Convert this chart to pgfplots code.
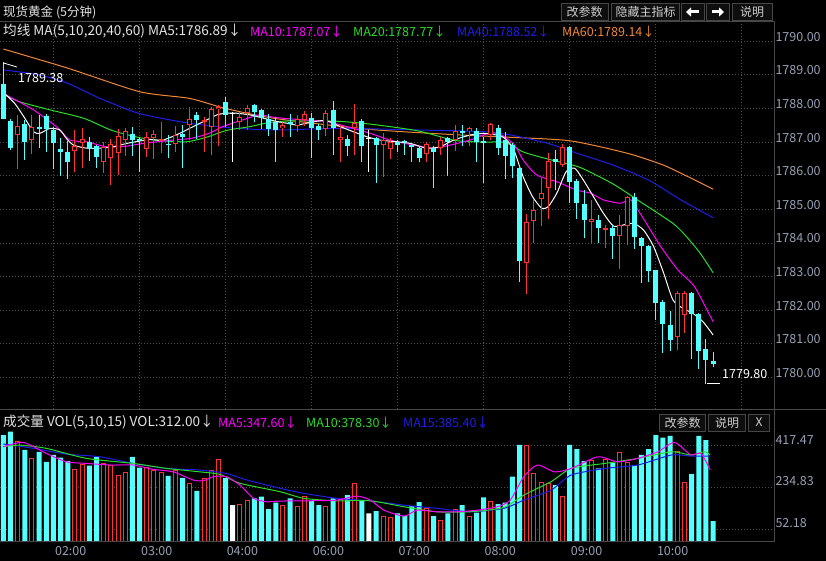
\documentclass[border=0pt]{standalone}
\usepackage{pgfplots}
\pgfplotsset{compat=1.18}
\usepackage{pgfplotstable}
\usepackage{fontspec}
\setmainfont{Noto Sans CJK SC}
\usetikzlibrary{arrows.meta}

\definecolor{cy}{RGB}{84,255,255}
\definecolor{rd}{RGB}{255,50,50}
\definecolor{ma10c}{RGB}{255,0,255}
\definecolor{ma20c}{RGB}{40,220,40}
\definecolor{ma40c}{RGB}{30,30,235}
\definecolor{ma60c}{RGB}{240,135,55}
\definecolor{gridc}{RGB}{78,78,78}
\definecolor{axc}{RGB}{150,160,180}
\definecolor{framec}{RGB}{72,72,72}
\definecolor{hdr}{RGB}{228,228,228}
\definecolor{btnb}{RGB}{70,70,70}
\definecolor{btnf}{RGB}{14,14,14}
\definecolor{btnt}{RGB}{205,205,205}

% up (red hollow) candles
\pgfplotstableread{
i o h l c v
2 1787.21 1787.81 1786.22 1787.48 438
4 1787.06 1787.81 1786.67 1787.46 362
10 1786.74 1787.38 1786.12 1786.89 315
11 1786.97 1787.42 1786.23 1787.10 337
14 1786.42 1787.00 1786.10 1786.86 340
15 1786.52 1787.10 1785.72 1786.94 330
16 1786.70 1787.38 1786.02 1787.21 289
17 1787.06 1787.42 1786.60 1787.34 302
20 1786.79 1787.31 1786.55 1787.16 321
21 1787.14 1787.36 1786.52 1787.26 308
22 1787.05 1787.61 1786.69 1787.09 302
24 1786.94 1787.48 1786.71 1787.23 311
26 1787.51 1788.05 1787.06 1787.71 250
28 1787.62 1787.76 1786.71 1787.64 275
29 1787.46 1788.05 1786.62 1788.00 311
30 1788.00 1788.10 1786.90 1788.07 358
33 1787.61 1787.90 1787.36 1787.76 162
34 1787.86 1788.10 1787.36 1788.01 176
39 1787.44 1787.61 1787.18 1787.51 157
41 1787.48 1787.81 1787.31 1787.69 153
42 1787.66 1787.93 1787.48 1787.86 194
45 1787.38 1787.96 1787.18 1787.88 150
47 1787.08 1787.51 1786.42 1787.16 182
49 1787.41 1788.15 1786.62 1787.56 250
53 1786.93 1787.28 1785.99 1787.06 109
54 1786.82 1787.14 1786.52 1787.03 102
59 1786.67 1787.01 1786.42 1786.96 143
61 1786.82 1787.16 1786.62 1787.06 89
63 1787.06 1787.51 1786.76 1787.34 139
65 1787.34 1787.43 1786.88 1787.41 106
68 1787.21 1787.58 1787.06 1787.54 175
73 1783.41 1784.88 1782.50 1784.63 418
74 1784.66 1785.30 1784.01 1785.00 296
75 1785.30 1785.95 1784.50 1785.49 255
76 1785.65 1786.68 1784.73 1786.45 253
78 1786.32 1786.96 1786.27 1786.86 194
82 1784.63 1785.28 1784.01 1784.73 352
84 1784.40 1784.53 1783.84 1784.45 355
86 1784.21 1784.83 1783.24 1784.53 389
87 1784.50 1785.40 1783.94 1785.38 343
94 1781.19 1782.58 1780.83 1782.52 391
95 1781.85 1782.58 1781.31 1782.52 257
}\up

% down (cyan) candles
\pgfplotstableread{
i o h l c v
0 1788.75 1789.38 1787.68 1787.71 464
1 1787.63 1787.70 1786.77 1786.84 479
3 1787.54 1787.66 1786.47 1787.01 399
5 1787.45 1787.81 1786.82 1787.39 391
6 1787.78 1787.85 1786.71 1787.41 347
7 1787.38 1787.46 1786.22 1786.98 377
8 1786.80 1787.12 1786.00 1786.72 365
9 1786.71 1787.06 1785.93 1786.42 350
12 1787.01 1787.16 1786.45 1786.81 330
13 1786.88 1786.91 1786.22 1786.55 369
18 1787.24 1787.45 1786.60 1787.06 369
19 1787.10 1787.16 1786.12 1787.04 321
23 1786.96 1787.21 1786.52 1786.92 285
25 1787.24 1787.51 1786.22 1787.16 277
27 1787.83 1787.90 1787.11 1787.66 220
31 1788.20 1788.35 1787.46 1787.81 275
35 1788.10 1788.15 1787.60 1787.90 187
36 1787.96 1788.00 1787.40 1787.71 194
37 1787.71 1787.86 1787.21 1787.39 140
38 1787.61 1787.76 1786.42 1787.36 168
40 1787.61 1787.84 1787.16 1787.56 187
43 1787.74 1787.86 1786.52 1787.44 176
44 1787.48 1787.56 1787.08 1787.36 157
46 1787.96 1788.22 1786.62 1787.44 187
48 1787.11 1787.21 1786.59 1786.88 201
50 1787.63 1787.68 1786.42 1786.88 176
52 1787.13 1787.16 1785.79 1786.93 131
55 1787.01 1787.06 1786.71 1786.91 121
56 1787.04 1787.06 1786.62 1787.00 109
57 1786.93 1786.96 1786.42 1786.86 153
58 1786.82 1786.88 1786.42 1786.52 170
60 1786.82 1786.88 1785.63 1786.71 109
62 1787.13 1787.16 1785.99 1787.01 121
64 1787.34 1787.51 1786.88 1787.26 157
66 1787.34 1787.41 1786.42 1787.03 124
67 1787.03 1787.16 1785.79 1786.98 191
69 1787.41 1787.51 1786.62 1786.82 162
70 1787.06 1787.31 1785.92 1786.59 168
71 1786.91 1786.96 1785.92 1786.29 282
72 1786.22 1786.29 1782.85 1783.46 421
77 1786.49 1786.76 1785.57 1786.42 245
79 1786.86 1786.88 1785.18 1785.82 421
80 1785.87 1785.92 1784.73 1785.20 403
81 1785.18 1785.57 1784.14 1784.70 350
83 1784.68 1784.83 1784.01 1784.45 318
85 1784.45 1784.53 1783.54 1784.21 343
88 1785.38 1785.49 1783.84 1784.17 333
89 1784.17 1784.18 1782.82 1783.91 377
90 1783.91 1783.94 1782.85 1783.17 403
91 1783.19 1783.21 1781.73 1782.22 464
92 1782.25 1782.30 1780.73 1781.61 453
93 1781.56 1781.98 1780.79 1781.13 461
96 1782.52 1782.55 1780.54 1781.88 293
97 1781.88 1781.90 1780.24 1780.79 461
98 1780.86 1781.16 1779.80 1780.54 442
99 1780.49 1780.76 1780.32 1780.42 87
}\down

% flat (white) candles
\pgfplotstableread{
i o h l c v
32 1787.86 1787.90 1786.42 1787.86 157
51 1787.13 1787.36 1786.12 1787.13 121
}\flat

\newcommand{\hf}{\fontsize{12.5}{14}\selectfont}
\newcommand{\hfw}{\fontsize{13.6}{15}\selectfont}
\newcommand{\tf}{\fontsize{12}{14}\selectfont}
\newcommand{\af}{\fontsize{12.5}{14}\selectfont}

\begin{document}
\begin{tikzpicture}
\useasboundingbox (0pt,0pt) rectangle (826pt,-561pt);
\fill[black] (0pt,0pt) rectangle (826pt,-561pt);

% ---------------- main price panel ----------------
\begin{axis}[
  at={(0pt,-21.5pt)}, anchor=north west,
  scale only axis, width=773pt, height=387.5pt,
  xmin=-0.46, xmax=107.35,
  ymin=1779.057, ymax=1790.589,
  axis line style={draw=none},
  major tick length=0pt,
  ytick={1780,1781,1782,1783,1784,1785,1786,1787,1788,1789,1790},
  yticklabel pos=right,
  /pgf/number format/assume math mode=true,
  yticklabel style={/pgf/number format/.cd, fixed, fixed zerofill, precision=2, 1000 sep={},
     /tikz/.cd, anchor=west, xshift=-1pt, yshift=4.5pt, font=\af, text=axc},
  xtick={6.97,18.96,30.96,42.95,54.95,66.94,78.94,90.93,102.93},
  xticklabels={},
  xmajorgrids, ymajorgrids,
  grid style={gridc, line width=0.8pt, dash pattern=on 1pt off 2pt},
  clip=true,
]
% MA60
\addplot[ma60c, line width=1pt, smooth, tension=0.4] coordinates {
(0,1789.77) (9,1789.2) (19,1788.5) (26,1788.3) (31,1788.0) (38,1787.7) (51,1787.38) (63,1787.22) (70,1787.15) (79,1787.04) (87,1786.67) (92,1786.32) (95.5,1785.97) (99,1785.6)};
% MA40
\addplot[ma40c, line width=1pt, smooth, tension=0.4] coordinates {
(0,1789.15) (5,1789.0) (9,1788.75) (13.5,1788.3) (19,1787.85) (26,1787.56) (32,1787.42) (38,1787.36) (47,1787.41) (58,1787.36) (67,1787.31) (71,1787.2) (76,1786.96) (80,1786.67) (85,1786.32) (90,1785.87) (94.5,1785.28) (99,1784.75)};
% MA20
\addplot[ma20c, line width=1pt, smooth, tension=0.4] coordinates {
(0,1788.42) (2.3,1788.2) (6.5,1787.96) (11.2,1787.71) (15,1787.36) (18,1787.18) (21,1787.06) (25.5,1787.01) (28.4,1787.15) (31.2,1787.35) (34.4,1787.46) (37,1787.58) (40,1787.63) (46.5,1787.62) (51,1787.54) (57.7,1787.34) (63,1787.05) (67,1787.0) (70,1786.99) (72.6,1786.7) (76.4,1786.47) (80.4,1786.25) (85,1785.76) (88.3,1785.3) (93.4,1784.58) (95.3,1784.18) (97.2,1783.69) (99,1783.11)};
% MA10
\addplot[ma10c, line width=1pt, smooth, tension=0.4] coordinates {
(0,1788.45) (4.2,1787.96) (7.4,1787.46) (9.3,1787.06) (11.6,1787.01) (14.4,1786.86) (17.2,1786.88) (19.5,1786.96) (23.7,1787.06) (26.2,1787.11) (28.7,1787.26) (30.6,1787.46) (33.4,1787.66) (35.7,1787.81) (38,1787.73) (41.9,1787.66) (45.1,1787.61) (47.9,1787.46) (51.2,1787.26) (53.9,1787.06) (57.2,1786.91) (60,1786.82) (62.3,1786.91) (65.1,1787.06) (67.8,1787.27) (69.5,1787.21) (71.3,1786.91) (72.5,1786.47) (74.4,1786.02) (77.2,1785.82) (80,1785.57) (81.9,1785.48) (83.7,1785.28) (86.1,1785.18) (87.5,1785.28) (89.4,1784.68) (91.7,1783.89) (94.1,1783.19) (96.4,1782.70) (99,1781.65)};
% MA5
\addplot[white, line width=1pt, smooth, tension=0.4] coordinates {
(0,1788.48) (1.6,1788.15) (3,1787.71) (4.2,1787.31) (5.1,1787.26) (6.5,1787.41) (7.9,1787.36) (8.8,1787.11) (9.8,1786.91) (11.6,1786.82) (13.5,1786.82) (15.3,1786.86) (17.2,1786.96) (19,1787.03) (20.4,1787.08) (22.2,1787.06) (24.1,1787.21) (26,1787.41) (27.9,1787.61) (29.8,1787.81) (31.1,1787.86) (32.5,1787.86) (34.4,1787.81) (36.3,1787.71) (38.2,1787.61) (39.6,1787.56) (41,1787.51) (43.4,1787.61) (45.1,1787.64) (47,1787.46) (48.8,1787.31) (50.7,1787.16) (52.5,1787.06) (54.9,1787.01) (56.8,1786.96) (59,1786.82) (60.9,1786.86) (62.8,1787.06) (65.1,1787.21) (66.9,1787.26) (68.8,1787.21) (69.7,1787.15) (71.1,1786.82) (72.5,1785.97) (73.8,1785.38) (75.1,1785.03) (76,1785.08) (77.2,1785.48) (78.5,1786.12) (79.7,1786.22) (80.9,1785.87) (82.3,1785.38) (83.7,1784.88) (85.1,1784.50) (86.4,1784.53) (87.9,1784.58) (89.3,1784.38) (90.7,1783.89) (92.1,1783.10) (93.4,1782.30) (94.8,1782.05) (96.2,1781.90) (97.6,1781.65) (99,1781.26)};

% wicks
\addplot[draw=none, mark=none, error bars/.cd, y dir=both, y explicit, error mark=none,
  error bar style={draw=cy, line width=1pt}]
  table[x=i, y expr={(\thisrow{h}+\thisrow{l})/2}, y error expr={(\thisrow{h}-\thisrow{l})/2}] {\down};
\addplot[draw=none, mark=none, error bars/.cd, y dir=both, y explicit, error mark=none,
  error bar style={draw=rd, line width=1pt}]
  table[x=i, y expr={(\thisrow{h}+\thisrow{l})/2}, y error expr={(\thisrow{h}-\thisrow{l})/2}] {\up};
\addplot[draw=none, mark=none, error bars/.cd, y dir=both, y explicit, error mark=none,
  error bar style={draw=white, line width=1pt}]
  table[x=i, y expr={(\thisrow{h}+\thisrow{l})/2}, y error expr={(\thisrow{h}-\thisrow{l})/2}] {\flat};
% bodies
\addplot[draw=none, mark=none, error bars/.cd, y dir=both, y explicit, error mark=none,
  error bar style={draw=cy, line width=5pt}]
  table[x=i, y expr={(\thisrow{o}+\thisrow{c})/2}, y error expr={max(abs(\thisrow{o}-\thisrow{c})/2,0.016)}] {\down};
\addplot[draw=none, mark=none, error bars/.cd, y dir=both, y explicit, error mark=none,
  error bar style={draw=rd, line width=5pt}]
  table[x=i, y expr={(\thisrow{o}+\thisrow{c})/2}, y error expr={max(abs(\thisrow{o}-\thisrow{c})/2,0.016)}] {\up};
\addplot[draw=none, mark=none, error bars/.cd, y dir=both, y explicit, error mark=none,
  error bar style={draw=black, line width=3pt}]
  table[x=i, y expr={(\thisrow{o}+\thisrow{c})/2}, y error expr={max(abs(\thisrow{o}-\thisrow{c})/2-0.03,0)}] {\up};
\addplot[draw=none, mark=none, error bars/.cd, y dir=both, y explicit, error mark=none,
  error bar style={draw=white, line width=5pt}]
  table[x=i, y expr={(\thisrow{o}+\thisrow{c})/2}, y error expr={max(abs(\thisrow{o}-\thisrow{c})/2,0.016)}] {\flat};
\end{axis}

% ---------------- volume panel ----------------
\begin{axis}[
  at={(0pt,-409pt)}, anchor=north west,
  scale only axis, width=773pt, height=132pt,
  xmin=-0.46, xmax=107.35,
  ymin=0, ymax=578.4,
  axis line style={draw=none},
  major tick length=0pt,
  ytick={52.18,234.83,417.47},
  yticklabels={52.18,234.83,417.47},
  yticklabel pos=right,
  yticklabel style={anchor=west, xshift=-1pt, yshift=6pt, font=\af, text=axc},
  xtick={9.4,21.4,33.35,45.35,57.3,69.3,81.35,93.35},
  xticklabels={02:00,03:00,04:00,06:00,07:00,08:00,09:00,10:00},
  xticklabel style={font=\af, text=axc, yshift=-1.5pt},
  ymajorgrids,
  grid style={gridc, line width=0.8pt, dash pattern=on 1pt off 2pt},
  clip=true,
]
\addplot[ybar, bar width=5pt, bar shift=0pt, fill=cy, draw=none] table[x=i, y=v] {\down};
\addplot[ybar, bar width=4pt, bar shift=0pt, fill=black, draw=rd, line width=1pt] table[x=i, y=v] {\up};
\addplot[ybar, bar width=5pt, bar shift=0pt, fill=white, draw=none] table[x=i, y=v] {\flat};
% MA15
\addplot[ma40c, line width=1pt, smooth, tension=0.4] coordinates {
(0,425) (4.2,406) (8.8,381) (13.5,369) (18.1,340) (22.8,318) (27.4,311) (31.1,296) (34,267) (38.6,231) (41.9,209) (46.5,187) (51.2,176) (55.9,157) (60.5,143) (65.1,128) (69.8,143) (72.6,179) (76.4,223) (79.2,289) (83.9,318) (88.5,333) (93.2,377) (95.9,372) (98.6,372)};
% MA10
\addplot[ma20c, line width=1pt, smooth, tension=0.4] coordinates {
(0,413) (2.3,420) (6,406) (11.6,362) (18.1,340) (22.8,318) (27.4,303) (30.2,292) (33,253) (38.6,216) (41.9,187) (46.5,176) (51.2,176) (55.9,150) (60.5,128) (65.1,128) (69.8,147) (72.6,201) (76.4,260) (79.2,318) (83.9,340) (88.5,362) (93.2,391) (95.9,377) (97.8,391) (98.6,377)};
% MA5
\addplot[ma10c, line width=1pt, smooth, tension=0.4] coordinates {
(0,413) (2.8,432) (6,384) (8.8,347) (11.6,340) (14.9,333) (18.1,333) (20.9,314) (23.7,303) (26.5,267) (27.9,264) (29.3,282) (31.1,282) (33,245) (34.9,187) (36.7,172) (38.6,175) (41.9,176) (46.5,179) (49.3,197) (51.2,179) (53.1,135) (55.9,109) (57.7,135) (60.5,128) (63.2,128) (66.1,135) (68.9,150) (70.7,179) (72.6,282) (74.5,333) (76.9,303) (79.2,318) (82.9,369) (85.7,347) (88.5,362) (91.3,391) (93.6,432) (95.9,377) (97.3,384) (98.6,311)};
\end{axis}

% ---------------- frame lines ----------------
\draw[framec, line width=1pt] (0pt,-21.5pt) -- (774.5pt,-21.5pt);
\draw[framec, line width=1pt] (774.5pt,-21.5pt) -- (774.5pt,-541pt);
\draw[framec, line width=1pt] (0pt,-409pt) -- (826pt,-409pt);
\draw[framec, line width=1pt] (0pt,-541pt) -- (774.5pt,-541pt);

% ---------------- headers ----------------
\node[anchor=west, text=hdr, font=\hf, inner sep=0] at (3pt,-12.5pt) {现货黄金 (5分钟)};
\node[anchor=west, text=hdr, font=\hfw, inner sep=0] at (3pt,-31.5pt) {均线 MA(5,10,20,40,60) MA5:1786.89↓};
\node[anchor=west, text=ma10c, font=\hf, inner sep=0] at (250pt,-31.5pt) {MA10:1787.07↓};
\node[anchor=west, text=ma20c, font=\hf, inner sep=0] at (353pt,-31.5pt) {MA20:1787.77↓};
\node[anchor=west, text=ma40c, font=\hf, inner sep=0] at (457pt,-31.5pt) {MA40:1788.52↓};
\node[anchor=west, text=ma60c, font=\hf, inner sep=0] at (562pt,-31.5pt) {MA60:1789.14↓};

\node[anchor=west, text=hdr, font=\hfw, inner sep=0] at (3pt,-422.5pt) {成交量 VOL(5,10,15) VOL:312.00↓};
\node[anchor=west, text=ma10c, font=\hf, inner sep=0] at (218pt,-422.5pt) {MA5:347.60↓};
\node[anchor=west, text=ma20c, font=\hf, inner sep=0] at (306pt,-422.5pt) {MA10:378.30↓};
\node[anchor=west, text=ma40c, font=\hf, inner sep=0] at (403pt,-422.5pt) {MA15:385.40↓};

% buttons top
\tikzset{btn/.style={draw=btnb, fill=btnf, text=btnt, font=\tf, inner sep=0, minimum height=17pt}}
\node[btn, minimum width=47pt] at (584.5pt,-12pt) {改参数};
\node[btn, minimum width=68pt] at (645.5pt,-12pt) {隐藏主指标};
\node[btn, minimum width=23pt] at (692.5pt,-12pt) {};
\node[btn, minimum width=23pt] at (717.5pt,-12pt) {};
\node[btn, minimum width=40pt] at (752pt,-12pt) {说明};
\draw[white, line width=3pt, -{Triangle[length=5pt,width=9pt]}] (698.5pt,-12pt) -- (686pt,-12pt);
\draw[white, line width=3pt, -{Triangle[length=5pt,width=9pt]}] (711.5pt,-12pt) -- (724pt,-12pt);
% buttons volume
\node[btn, minimum width=46pt] at (682.5pt,-422.5pt) {改参数};
\node[btn, minimum width=37pt] at (727pt,-422.5pt) {说明};
\node[btn, minimum width=21pt] at (759pt,-422.5pt) {X};

% price markers
\draw[white, line width=0.8pt] (3.5pt,-63pt) -- (17pt,-67pt);
\node[anchor=west, text=white, font=\hf, inner sep=0] at (18pt,-78pt) {1789.38};
\draw[white, line width=0.8pt] (706.5pt,-383pt) -- (720pt,-383pt);
\node[anchor=west, text=white, font=\hf, inner sep=0] at (722pt,-374.5pt) {1779.80};
\end{tikzpicture}
\end{document}
